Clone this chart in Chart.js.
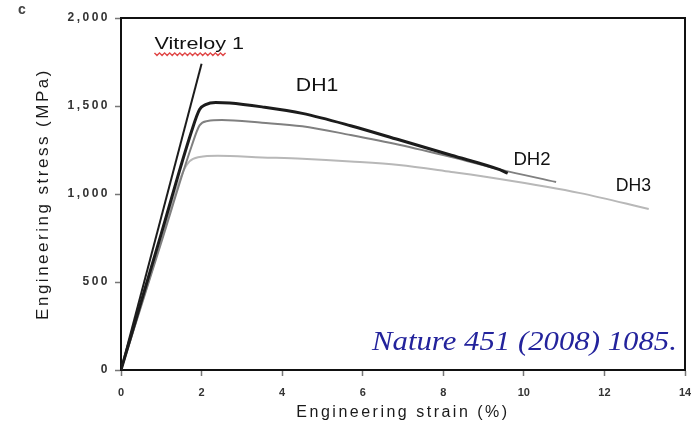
<!DOCTYPE html>
<html>
<head>
<meta charset="utf-8">
<title>Engineering stress-strain curves</title>
<script src="https://cdn.jsdelivr.net/npm/chart.js@4"></script>
<style>
  html, body { margin: 0; padding: 0; background: #fff; }
  #wrap { width: 691px; height: 433px; position: relative; }
</style>
</head>
<body>
<div id="wrap"><canvas id="stressChart"></canvas></div>
<script>
// strain (%) / stress (MPa) pairs along each tensile curve
const strainVit = [0, 2.0];
const stressVit = [0, 1740];

const strainDH1 = [0, 1.0, 1.75, 1.95, 2.1, 2.35, 2.7, 3.5, 4.5, 5.7, 6.9, 8.2, 9.4, 9.6];
const stressDH1 = [0, 775, 1355, 1480, 1508, 1520, 1517, 1495, 1458, 1388, 1308, 1220, 1138, 1118];

const strainDH2 = [0, 1.0, 1.75, 1.95, 2.15, 2.5, 3.5, 4.5, 5.7, 6.9, 8.2, 9.4, 10.8];
const stressDH2 = [0, 725, 1270, 1390, 1415, 1420, 1405, 1385, 1335, 1280, 1210, 1140, 1068];

const strainDH3 = [0, 1.0, 1.5, 1.7, 1.95, 2.4, 3.5, 4.5, 5.7, 6.9, 8.2, 9.4, 11.4, 13.1];
const stressDH3 = [0, 737, 1105, 1185, 1210, 1217, 1208, 1200, 1185, 1165, 1125, 1085, 1005, 915];

const seriesNames = ['Vitreloy 1', 'DH1', 'DH2', 'DH3'];

const xTicks = [0, 2, 4, 6, 8, 10, 12, 14];
const yTicks = [0, 500, 1000, 1500, 2000];

// text placed next to the curves, anchored in data units (left edge, baseline)
const curveLabels = [
  { text: 'Vitreloy 1', x: 0.83, y: 1824, size: 17, stretch: 1.27, squiggle: 'Vitreloy' },
  { text: 'DH1', x: 4.34, y: 1585, size: 18, stretch: 1.18 },
  { text: 'DH2', x: 9.74, y: 1165, size: 18, stretch: 1.03 },
  { text: 'DH3', x: 12.28, y: 1017, size: 18, stretch: 0.98 }
];
const sourceNote = { text: 'Nature 451 (2008) 1085.', x: 6.23, y: 114 };

function toPoints(xs, ys) {
  return xs.map((x, i) => ({ x: x, y: ys[i] }));
}

// titles and y tick labels are drawn wide, x tick labels plain
const spacingPlugin = {
  id: 'spacing',
  beforeDraw(chart) { chart.ctx.letterSpacing = '2.5px'; },
  afterDatasetsDraw(chart) { chart.ctx.letterSpacing = '0px'; }
};

const framePlugin = {
  id: 'frame',
  beforeDatasetsDraw(chart) {
    const { ctx, chartArea: a } = chart;
    ctx.save();
    ctx.strokeStyle = '#111';
    ctx.lineWidth = 2;
    ctx.beginPath();
    ctx.moveTo(a.left, a.top);
    ctx.lineTo(a.right, a.top);
    ctx.lineTo(a.right, a.bottom);
    ctx.stroke();
    ctx.restore();
  }
};

const labelPlugin = {
  id: 'curveLabels',
  afterDraw(chart) {
    const { ctx, scales } = chart;
    ctx.save();
    ctx.letterSpacing = '0px';
    ctx.textBaseline = 'alphabetic';
    ctx.textAlign = 'left';

    curveLabels.forEach(l => {
      const px = scales.x.getPixelForValue(l.x);
      const py = scales.y.getPixelForValue(l.y);
      ctx.save();
      ctx.translate(px, py);
      ctx.scale(l.stretch, 1);
      ctx.font = l.size + 'px "Liberation Sans", Arial, sans-serif';
      ctx.fillStyle = '#111';
      ctx.fillText(l.text, 0, 0);
      if (l.squiggle) {
        // wavy red underline under the alloy name
        const w = ctx.measureText(l.squiggle).width;
        ctx.strokeStyle = '#e04848';
        ctx.lineWidth = 1.2;
        ctx.beginPath();
        for (let i = 0; i <= w; i += 2) {
          const yy = 4 + ((i / 2) % 2 === 0 ? 0 : 2.5);
          if (i === 0) ctx.moveTo(i, yy); else ctx.lineTo(i, yy);
        }
        ctx.stroke();
      }
      ctx.restore();
    });

    // citation in the lower right
    const nx = scales.x.getPixelForValue(sourceNote.x);
    const ny = scales.y.getPixelForValue(sourceNote.y);
    ctx.translate(nx, ny);
    ctx.scale(1.14, 1);
    ctx.font = 'italic 27px "Liberation Serif", "Times New Roman", serif';
    ctx.fillStyle = '#23239c';
    ctx.fillText(sourceNote.text, 0, 0);
    ctx.restore();

    // panel letter
    ctx.save();
    ctx.letterSpacing = '0px';
    ctx.font = 'bold 14px "Liberation Sans", Arial, sans-serif';
    ctx.fillStyle = '#444';
    ctx.textBaseline = 'middle';
    ctx.fillText('c', 18, 10);
    ctx.restore();
  }
};

const ctx = document.getElementById('stressChart').getContext('2d');

const chart = new Chart(ctx, {
  type: 'scatter',
  data: {
    datasets: [
      {
        label: seriesNames[0],
        data: toPoints(strainVit, stressVit),
        borderColor: '#1c1c1c',
        borderWidth: 2
      },
      {
        label: seriesNames[1],
        data: toPoints(strainDH1, stressDH1),
        borderColor: '#1c1c1c',
        borderWidth: 3
      },
      {
        label: seriesNames[2],
        data: toPoints(strainDH2, stressDH2),
        borderColor: '#808080',
        borderWidth: 2
      },
      {
        label: seriesNames[3],
        data: toPoints(strainDH3, stressDH3),
        borderColor: '#b8b8b8',
        borderWidth: 2
      }
    ]
  },
  options: {
    responsive: true,
    maintainAspectRatio: false,
    animation: false,
    locale: 'en-US',
    datasets: {
      scatter: {
        showLine: true,
        pointRadius: 0,
        pointHoverRadius: 0,
        cubicInterpolationMode: 'monotone',
        fill: false
      }
    },
    layout: { padding: { top: 18, right: 6, left: 0, bottom: 0 } },
    plugins: {
      legend: { display: false },
      tooltip: { enabled: false }
    },
    scales: {
      x: {
        type: 'linear',
        min: 0,
        max: 14,
        afterFit: s => {
          s.height = 63;
          s.paddingLeft = 0;
          s.paddingRight = 0;
        },
        afterBuildTicks: s => { s.ticks = xTicks.map(v => ({ value: v })); },
        grid: {
          drawOnChartArea: false,
          drawTicks: true,
          tickLength: 6,
          tickColor: '#777',
          tickWidth: 1.5
        },
        border: { display: true, color: '#111', width: 2 },
        ticks: {
          z: 1,
          maxRotation: 0,
          autoSkip: false,
          padding: 10,
          color: '#333',
          font: { family: '"Liberation Sans", Arial, sans-serif', size: 11, weight: 'bold' }
        },
        title: {
          display: true,
          text: 'Engineering strain (%)',
          color: '#1a1a1a',
          padding: { top: 0, bottom: 11 },
          font: { family: '"Liberation Sans", Arial, sans-serif', size: 16 }
        }
      },
      y: {
        type: 'linear',
        min: 0,
        max: 2000,
        afterFit: s => {
          s.width = 121;
          s.paddingTop = 0;
          s.paddingBottom = 0;
        },
        afterBuildTicks: s => { s.ticks = yTicks.map(v => ({ value: v })); },
        grid: {
          drawOnChartArea: false,
          drawTicks: true,
          tickLength: 6,
          tickColor: '#777',
          tickWidth: 1.5
        },
        border: { display: true, color: '#111', width: 2 },
        ticks: {
          padding: 5,
          color: '#333',
          font: { family: '"Liberation Sans", Arial, sans-serif', size: 12, weight: 'bold' }
        },
        title: {
          display: true,
          text: 'Engineering stress (MPa)',
          color: '#1a1a1a',
          padding: { top: 33, bottom: 0 },
          font: { family: '"Liberation Sans", Arial, sans-serif', size: 17 }
        }
      }
    }
  },
  plugins: [spacingPlugin, framePlugin, labelPlugin]
});
</script>
</body>
</html>
